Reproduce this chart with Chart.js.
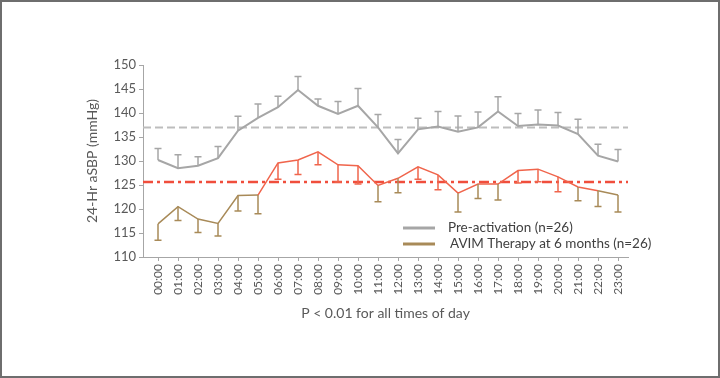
<!DOCTYPE html>
<html>
<head>
<meta charset="utf-8">
<script src="https://cdn.jsdelivr.net/npm/chart.js@4.4.1/dist/chart.umd.min.js"></script>
<style>
body{margin:0;background:#fff}
#wrap{width:720px;height:378px}
</style>
</head>
<body>
<div id="wrap"><canvas id="bpChart" width="720" height="378"></canvas></div>
<script>
const hours = ['00:00','01:00','02:00','03:00','04:00','05:00','06:00','07:00','08:00','09:00','10:00','11:00',
               '12:00','13:00','14:00','15:00','16:00','17:00','18:00','19:00','20:00','21:00','22:00','23:00'];

// pre-activation means and upper error
const preValues = [130.2,128.5,129.0,130.6,136.3,139.0,141.2,144.8,141.5,139.8,141.5,137.0,
                   131.6,136.6,137.2,136.1,137.0,140.3,137.3,137.6,137.4,135.6,131.1,129.9];
const preErr = [2.4,2.8,1.9,2.4,3.0,2.9,2.3,2.8,1.4,2.6,3.6,2.7,
                2.9,2.3,3.1,3.3,3.2,3.1,2.6,3.0,2.7,3.1,2.4,2.5];

// AVIM therapy means and lower error
const avimValues = [116.9,120.5,117.9,117.0,122.8,122.9,129.6,130.2,131.9,129.2,129.0,124.9,
                    126.4,128.8,127.1,123.3,125.2,125.2,128.0,128.3,126.7,124.6,123.8,122.9];
const avimErr = [3.4,2.9,2.8,2.6,3.2,3.9,3.4,3.0,2.7,3.6,3.8,3.4,
                 3.0,2.6,3.1,3.9,3.0,3.3,2.6,2.6,3.1,2.9,3.3,3.5];

// 24h averages
const preMean = 137.0;
const avimMean = 125.6;

const GREY = '#a6a6a6';
const RED = '#f0654c';
const BROWN = '#a88a58';
const TEXT = '#595959';
const FONT = 'Lato, "Open Sans", sans-serif';

const refLines = {
    id:'refLines',
    beforeDatasetsDraw(chart){
        const {ctx, chartArea:a, scales:{y}} = chart;
        ctx.save();
        let py = y.getPixelForValue(preMean);
        ctx.strokeStyle = '#bdbdbd';
        ctx.lineWidth = 2;
        ctx.setLineDash([8,4]);
        ctx.beginPath(); ctx.moveTo(a.left, py); ctx.lineTo(a.right, py); ctx.stroke();
        py = y.getPixelForValue(avimMean);
        ctx.strokeStyle = '#f04e3c';
        ctx.lineWidth = 2.5;
        ctx.setLineDash([10,4,3,4]);
        ctx.beginPath(); ctx.moveTo(a.left, py); ctx.lineTo(a.right, py); ctx.stroke();
        ctx.restore();
    }
};

const errorBars = {
    id:'errorBars',
    afterDatasetsDraw(chart){
        const {ctx, scales:{x,y}} = chart;
        ctx.save();
        ctx.lineWidth = 1.5;
        const bar = (px, y0, y1, col) => {
            ctx.strokeStyle = col;
            ctx.beginPath();
            ctx.moveTo(px, y0); ctx.lineTo(px, y1);
            ctx.moveTo(px-3.5, y1); ctx.lineTo(px+3.5, y1);
            ctx.stroke();
        };
        preValues.forEach((v,i) => {
            bar(x.getPixelForValue(i), y.getPixelForValue(v), y.getPixelForValue(v+preErr[i]), GREY);
        });
        avimValues.forEach((v,i) => {
            const col = v > avimMean + 0.9 ? RED : BROWN;
            bar(x.getPixelForValue(i), y.getPixelForValue(v), y.getPixelForValue(v-avimErr[i]), col);
        });
        ctx.restore();
    }
};

const legendBox = {
    id:'legendBox',
    afterDraw(chart){
        const ctx = chart.ctx;
        ctx.save();
        ctx.lineWidth = 3;
        ctx.strokeStyle = GREY;
        ctx.beginPath(); ctx.moveTo(403,228); ctx.lineTo(435,228); ctx.stroke();
        ctx.strokeStyle = BROWN;
        ctx.beginPath(); ctx.moveTo(403,244); ctx.lineTo(435,244); ctx.stroke();
        ctx.fillStyle = '#404040';
        ctx.font = '13.5px ' + FONT;
        ctx.textBaseline = 'middle';
        ctx.fillText('Pre-activation (n=26)', 448, 228);
        ctx.fillText('AVIM Therapy at 6 months (n=26)', 450, 244);
        // frame
        ctx.lineWidth = 2;
        ctx.strokeStyle = '#6e6e6e';
        ctx.strokeRect(1,1,718,376);
        ctx.restore();
    }
};

const bpChart = new Chart(document.getElementById('bpChart'), {
    type:'line',
    data:{
        datasets:[{
            label:'Pre-activation (n=26)',
            data: preValues.map((v,i) => ({x:i, y:v})),
            borderColor: GREY,
            borderWidth: 2,
            pointRadius: 0,
            tension: 0
        },{
            label:'AVIM Therapy at 6 months (n=26)',
            data: avimValues.map((v,i) => ({x:i, y:v})),
            borderColor: BROWN,
            borderWidth: 1.5,
            pointRadius: 0,
            tension: 0,
            segment:{
                borderColor: c => (c.p0DataIndex >= 5 && c.p0DataIndex <= 21) ? RED : BROWN
            }
        }]
    },
    options:{
        responsive:false,
        animation:false,
        layout:{padding:{left:80, right:92, top:65, bottom:52}},
        plugins:{
            legend:{display:false},
            tooltip:{enabled:false}
        },
        scales:{
            x:{
                type:'linear',
                min:-0.75,
                max:23.5,
                afterFit: s => { s.height = 69; },
                grid:{drawOnChartArea:false, color:'#a6a6a6', tickLength:4},
                border:{color:'#a6a6a6'},
                ticks:{
                    stepSize:1,
                    includeBounds:false,
                    autoSkip:false,
                    minRotation:90,
                    maxRotation:90,
                    color:TEXT,
                    font:{family:FONT, size:12},
                    callback: v => Number.isInteger(v) ? hours[v] : ''
                },
                title:{display:true, text:'P < 0.01 for all times of day', color:TEXT, font:{family:FONT, size:14}}
            },
            y:{
                min:110,
                max:150,
                afterFit: s => { s.width = 63; },
                grid:{drawOnChartArea:false, color:'#a6a6a6', tickLength:4},
                border:{color:'#a6a6a6'},
                ticks:{stepSize:5, color:TEXT, font:{family:FONT, size:13}},
                title:{display:true, text:'24-Hr aSBP (mmHg)', color:TEXT, font:{family:FONT, size:14}}
            }
        }
    },
    plugins:[refLines, errorBars, legendBox]
});
</script>
</body>
</html>
